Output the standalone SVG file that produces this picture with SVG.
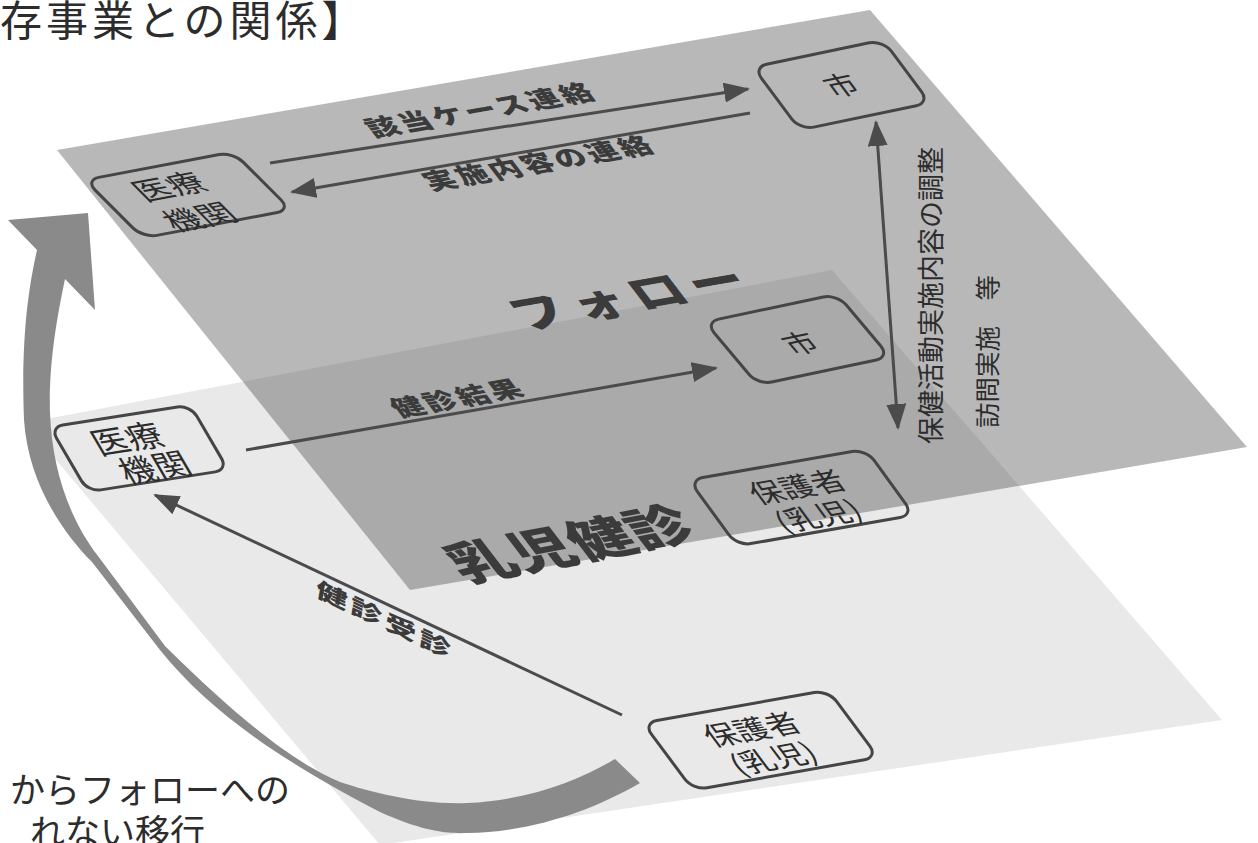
<svg xmlns="http://www.w3.org/2000/svg" width="1258" height="843" viewBox="0 0 1258 843">
<defs>
<style>
.t{font-family:"Noto Sans CJK JP","Noto Sans CJK SC",sans-serif;fill:#2c2c2c}
.lbl{font-weight:900;fill:#3b3b3b}
.box{fill:none;stroke:#454545;stroke-width:3;vector-effect:non-scaling-stroke}
.ln{stroke:#4b4b4b;stroke-width:3;fill:none}
</style>
<marker id="ah" markerUnits="userSpaceOnUse" markerWidth="26" markerHeight="20" refX="24" refY="10" orient="auto-start-reverse" viewBox="0 0 26 20">
<path d="M0,0 L26,10 L0,20 z" fill="#4b4b4b"/>
</marker>
</defs>
<rect width="1258" height="843" fill="#ffffff"/>

<g id="title">
<text class="t" x="0" y="36" font-size="42" letter-spacing="4">存事業との関係】</text>
</g>

<g id="plane-kenshin">
<polygon points="25,423 832,270 1222,720 380,845" fill="#e9e9e9"/>
</g>

<g id="plane-follow">
<polygon points="57,150 870,10 1247,447 410,590" fill="#3a3a3a" fill-opacity="0.36"/>
</g>

<g id="transition-arrow">
<path d="M37,250 C28,290 21,340 24,420 C28,480 60,530 92,562 L160,650 C210,712 280,760 380,812 C420,830 445,834 467,833 C530,832 590,812 640,783 L615,759 C580,780 530,800 467,803 C420,805 370,792 340,782 C300,765 250,730 165,646 L98,556 C70,520 52,470 50,413 C49,380 52,340 65,279 L95,310 L88,213 L8,220 Z" fill="#8a8a8a"/>
</g>

<g id="connectors">
<line class="ln" x1="270" y1="163" x2="748" y2="89" marker-end="url(#ah)"/>
<line class="ln" x1="750" y1="113" x2="292" y2="192" marker-end="url(#ah)"/>
<line class="ln" x1="876" y1="122" x2="898" y2="428" marker-start="url(#ah)" marker-end="url(#ah)"/>
<line class="ln" x1="246" y1="450" x2="716" y2="368" marker-end="url(#ah)"/>
<line class="ln" x1="622" y1="715" x2="155" y2="495" marker-end="url(#ah)"/>
</g>

<g id="labels">
<text class="t lbl" font-size="30" letter-spacing="3" text-anchor="middle" transform="matrix(0.985,-0.171,0.55,0.72,487,118)">該当ケース連絡</text>
<text class="t lbl" font-size="30" letter-spacing="3" text-anchor="middle" transform="matrix(0.985,-0.171,0.55,0.72,545,171)">実施内容の連絡</text>
<text class="t lbl" font-size="52" letter-spacing="8" text-anchor="middle" transform="matrix(0.985,-0.171,0.55,0.72,642,310)">フォロー</text>
<text class="t lbl" font-size="30" letter-spacing="3" text-anchor="middle" transform="matrix(0.985,-0.171,0.55,0.72,464,406)">健診結果</text>
<text class="t lbl" font-size="60" text-anchor="middle" transform="matrix(0.983,-0.186,0.55,0.72,583,560)">乳児健診</text>
<text class="t lbl" font-size="34" letter-spacing="4" text-anchor="middle" transform="matrix(0.905,0.426,-0.1,0.62,384,628)">健診受診</text>
<text class="t" font-size="27" transform="translate(941,444) rotate(-90)">保健活動実施内容の調整</text>
<text class="t" font-size="25.5" transform="translate(997,428) rotate(-90)">訪問実施　等</text>
</g>

<g id="node-iryo-top" transform="matrix(0.987,-0.187,0.707,0.707,85,180)">
<rect class="box" x="0" y="0" width="150" height="82" rx="14"/>
<text class="t" font-size="33" text-anchor="middle" x="66" y="39">医療</text>
<text class="t" font-size="33" text-anchor="middle" x="66" y="82">機関</text>
</g>

<g id="node-shi-top" transform="matrix(0.977,-0.203,0.595,0.797,753,67)">
<rect class="box" x="0" y="0" width="133" height="79" rx="14"/>
<text class="t" font-size="30" text-anchor="middle" x="66" y="51">市</text>
</g>

<g id="node-shi-mid" transform="matrix(0.978,-0.207,0.646,0.768,705,322)">
<rect class="box" x="0" y="0" width="135" height="82" rx="14"/>
<text class="t" font-size="30" text-anchor="middle" x="67" y="57">市</text>
</g>

<g id="node-hogosha-mid" transform="matrix(0.983,-0.172,0.585,0.805,689,480)">
<rect class="box" x="0" y="0" width="180" height="82" rx="14"/>
<text class="t" font-size="31" text-anchor="middle" x="93" y="40">保護者</text>
<text class="t" font-size="31" text-anchor="middle" x="93" y="76">(乳児)</text>
</g>

<g id="node-iryo-low" transform="matrix(0.988,-0.155,0.505,0.865,50,427)">
<rect class="box" x="0" y="0" width="142" height="75" rx="13"/>
<text class="t" font-size="34" text-anchor="middle" x="65" y="38">医療</text>
<text class="t" font-size="34" text-anchor="middle" x="75" y="73">機関</text>
</g>

<g id="node-hogosha-low" transform="matrix(0.984,-0.1755,0.598,0.801,643,723)">
<rect class="box" x="0" y="0" width="188" height="84" rx="14"/>
<text class="t" font-size="31" text-anchor="middle" x="93" y="40">保護者</text>
<text class="t" font-size="31" text-anchor="middle" x="93" y="76">(乳児)</text>
</g>

<g id="caption">
<text class="t" font-size="35" text-anchor="end" x="290" y="803">からフォローへの</text>
<text class="t" font-size="35" text-anchor="end" x="205" y="845">れない移行</text>
</g>
</svg>
